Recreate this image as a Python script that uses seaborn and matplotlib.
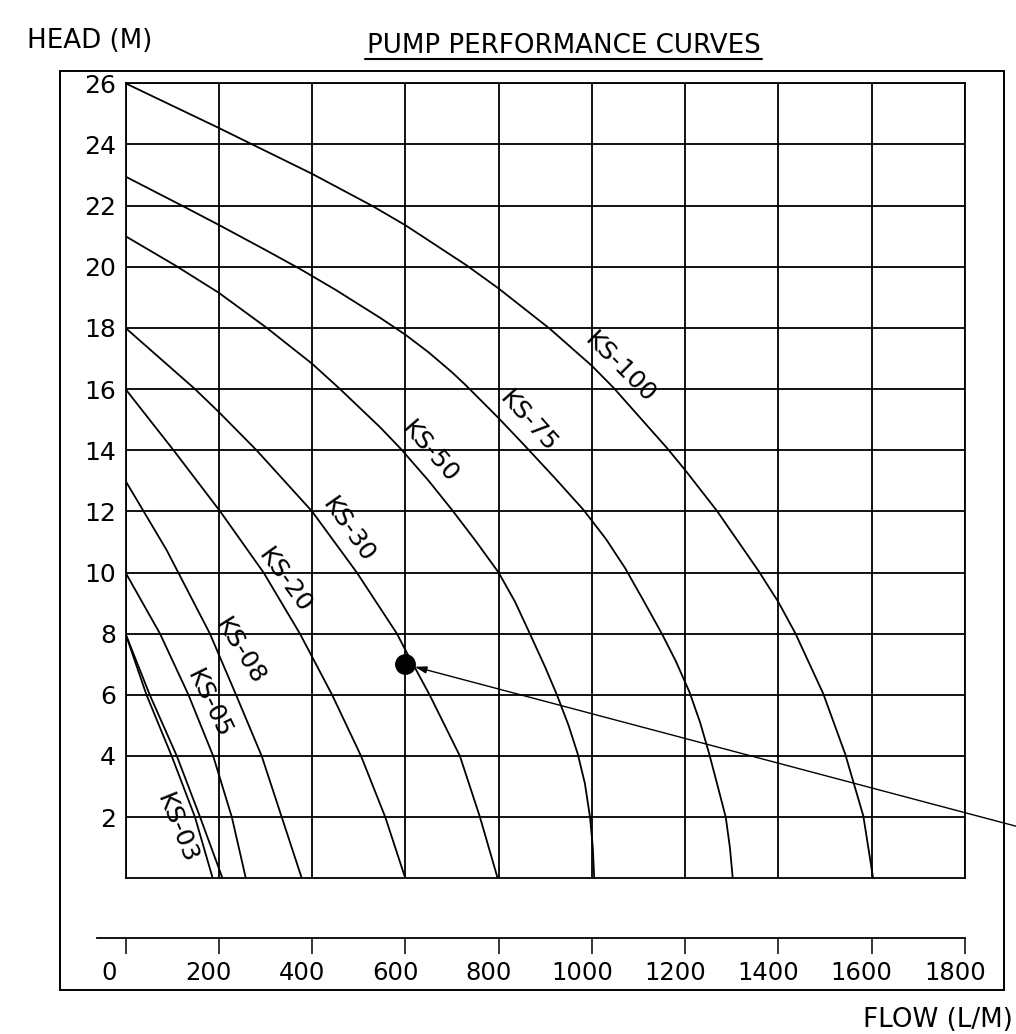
import matplotlib
matplotlib.use("Agg")
import matplotlib.pyplot as plt
import matplotlib.transforms as mtransforms
from matplotlib.lines import Line2D
from matplotlib.patches import Rectangle
import pandas as pd
import seaborn as sns

# pump curves: flow in L/M, head in M
ks100_flow = [0, 200, 400, 528, 600, 731, 800, 910, 1000, 1046, 1160, 1200, 1268, 1357, 1400, 1436, 1496, 1543, 1582, 1603]
ks100_head = [26, 24.54, 23.04, 22, 21.36, 20.05, 19.29, 17.97, 16.76, 16.05, 14.09, 13.35, 12.02, 10.06, 9.03, 8.02, 6.04, 4.07, 2.04, 0]

ks75_flow = [0, 121, 200, 300, 374, 450, 546, 600, 650, 700, 728, 800, 853, 920, 982, 1030, 1071, 1110, 1150, 1180,
             1209, 1232, 1251, 1270, 1287, 1296, 1302]
ks75_head = [22.95, 22, 21.37, 20.55, 19.93, 19.25, 18.33, 17.78, 17.2, 16.55, 16.15, 15.05, 14.2, 13.1, 12.05, 11.1,
             10.15, 9.1, 8, 7.1, 6.1, 5.1, 4.1, 3, 2, 1, 0]

ks50_flow = [0, 106, 200, 303, 400, 460, 546, 590, 650, 700, 750, 800, 835, 867, 900, 925, 950, 970, 985, 996, 1002, 1005]
ks50_head = [21, 20.05, 19.15, 18, 16.83, 16, 14.75, 14.05, 13, 12.05, 11.05, 10, 9.05, 8, 6.9, 6, 5, 4.05, 3.1, 2, 1, 0]

ks30_flow = [0, 149, 200, 281, 400, 496, 582, 600, 652, 717, 760, 798]
ks30_head = [18, 16, 15.25, 14, 12, 10, 8, 7.47, 6, 4, 2, 0]

ks20_flow = [0, 103, 203, 296, 374, 443, 505, 557, 600]
ks20_head = [16, 14, 12, 10, 8, 6, 4, 2, 0]

ks08_flow = [0, 88, 181, 237, 292, 335, 378]
ks08_head = [13, 10.74, 8, 6, 4, 2, 0]

ks05_flow = [0, 74, 135, 188, 228, 258]
ks05_head = [10, 8, 6, 4, 2, 0]

ks03_flow = [0, 45, 99, 149, 187]
ks03_head = [8, 6, 4, 2, 0]

ks03b_flow = [0, 52, 110, 160, 208]
ks03b_head = [8, 6, 4, 2, 0]

curve_names = ["KS-100", "KS-75", "KS-50", "KS-30", "KS-20", "KS-08", "KS-05", "KS-03", "unlabelled"]
curve_flows = [ks100_flow, ks75_flow, ks50_flow, ks30_flow, ks20_flow, ks08_flow, ks05_flow, ks03_flow, ks03b_flow]
curve_heads = [ks100_head, ks75_head, ks50_head, ks30_head, ks20_head, ks08_head, ks05_head, ks03_head, ks03b_head]

# duty point marked on the sheet
duty_flow = 600
duty_head = 7

flow_ticks = [0, 200, 400, 600, 800, 1000, 1200, 1400, 1600, 1800]
head_ticks = [2, 4, 6, 8, 10, 12, 14, 16, 18, 20, 22, 24, 26]

rows = []
for name, fl, hd in zip(curve_names, curve_flows, curve_heads):
    for f, h in zip(fl, hd):
        rows.append({"model": name, "flow": f, "head": h})
df = pd.DataFrame(rows)

sns.set_theme(style="white")
plt.rcParams["font.family"] = ["DejaVu Sans"]
plt.rcParams["text.color"] = "black"

W, H = 1016, 1034
fig = plt.figure(figsize=(W / 100, H / 100), dpi=100)
ax = fig.add_axes([125.5 / W, 1 - 878.3 / H, 839.5 / W, 795 / H])

sns.lineplot(data=df, x="flow", y="head", units="model", estimator=None, sort=False,
             color="black", linewidth=1.3, ax=ax, legend=False)

ax.set_xlim(0, 1800)
ax.set_ylim(0, 26)
ax.set_xticks(flow_ticks)
ax.set_yticks(head_ticks)
ax.set_xlabel("")
ax.set_ylabel("")
ax.grid(True, color="black", linewidth=1.3)
ax.axhline(0, color="black", linewidth=1.3, clip_on=False)

for side in ["left", "right", "top", "bottom"]:
    ax.spines[side].set_color("black")
    ax.spines[side].set_linewidth(1.3)
ax.spines["bottom"].set_position(("outward", 60 * 0.72))
ax.spines["bottom"].set_bounds(-61, 1800)

ax.tick_params(axis="x", direction="out", length=16 * 0.72, width=1.1, pad=4.5,
               labelsize=17.5, colors="black", bottom=True)
ax.tick_params(axis="y", length=0, pad=7, labelsize=18, colors="black")

for i, lbl in enumerate(ax.get_xticklabels()):
    dx = -16 if i == 0 else -10
    lbl.set_transform(lbl.get_transform() + mtransforms.ScaledTranslation(dx / 100, 0, fig.dpi_scale_trans))

# curve names written along the curves
label_spots = {
    "KS-100": (1060, 16.7, -45),
    "KS-75": (864, 14.93, -48),
    "KS-50": (653, 13.95, -49),
    "KS-30": (477, 11.4, -55),
    "KS-20": (342, 9.75, -54),
    "KS-08": (246, 7.41, -58),
    "KS-05": (179, 5.7, -64),
    "KS-03": (110, 1.63, -68),
}
for name, (fx, hy, ang) in label_spots.items():
    ax.text(fx, hy, name, rotation=ang, rotation_mode="anchor", ha="center", va="center",
            fontsize=18, color="black")

ax.plot([duty_flow], [duty_head], "o", color="black", markersize=14, zorder=5)
ax.annotate("", xy=(duty_flow, duty_head), xytext=(1935, 1.6), annotation_clip=False,
            arrowprops=dict(arrowstyle="-|>,head_length=0.5,head_width=0.15", color="black",
                            lw=1.0, mutation_scale=14, shrinkA=0, shrinkB=7))

# outer frame and headings
fig.add_artist(Rectangle((59.5 / W, 1 - 989.5 / H), 944 / W, 919 / H, fill=False,
                         edgecolor="black", linewidth=1.4, transform=fig.transFigure))
fig.text(27 / W, 1 - 47.7 / H, "HEAD (M)", fontsize=18.8, va="baseline", ha="left", color="black")
fig.text(563.5 / W, 1 - 53.3 / H, "PUMP PERFORMANCE CURVES", fontsize=18.8, va="baseline", ha="center",
         color="black")
fig.add_artist(Line2D([365 / W, 762 / W], [1 - 58.5 / H, 1 - 58.5 / H], color="black",
                      linewidth=1.5, transform=fig.transFigure))
fig.text(863 / W, 1 - 1026.7 / H, "FLOW (L/M)", fontsize=18.8, va="baseline", ha="left", color="black")

fig.savefig("out.png", dpi=100, facecolor="white")
